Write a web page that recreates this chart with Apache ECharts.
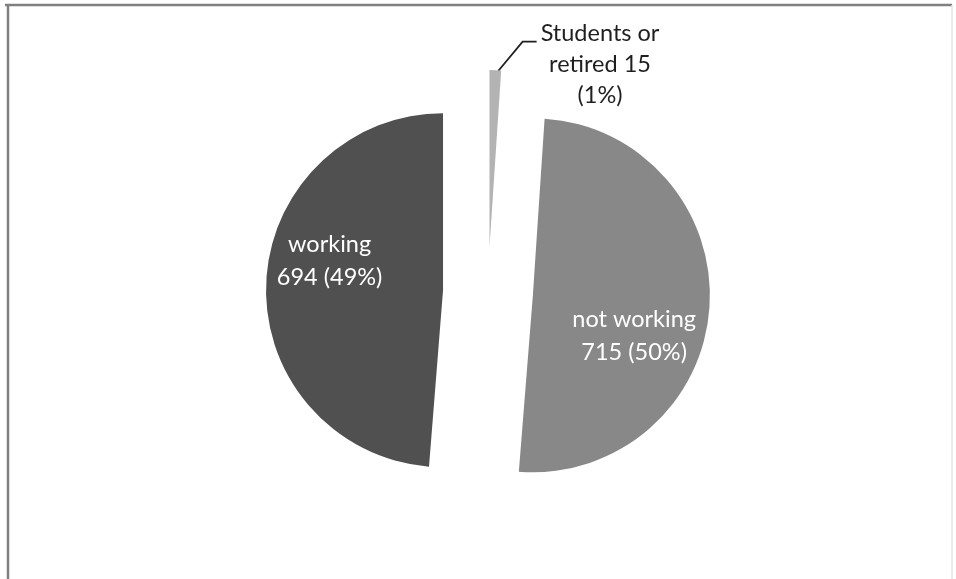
<!DOCTYPE html>
<html>
<head>
<meta charset="utf-8">
<script src="https://cdn.jsdelivr.net/npm/echarts@6/dist/echarts.min.js"></script>
<style>
  html, body { margin: 0; padding: 0; background: #fff; }
  #chart { width: 956px; height: 579px; }
</style>
</head>
<body>
<div id="chart"></div>
<script>
// Employment status of respondents
const categories = ['Students or\nretired', 'not working', 'working'];
const counts = [15, 715, 694];
const percents = [1, 50, 49];
const sliceColors = ['#b3b3b3', '#888888', '#505050'];

const chart = echarts.init(document.getElementById('chart'));

const pieData = categories.map((name, i) => ({
  name: name,
  value: counts[i],
  selected: true,
  itemStyle: { color: sliceColors[i] }
}));

// label shifts (dx, dy) relative to the default label spot of each slice
const labelShift = { 'Students or\nretired': [85, 14], 'working': [-22, -26], 'not working': [10, 34] };

chart.setOption({
  backgroundColor: '#ffffff',
  animation: false,
  graphic: [
    { type: 'line', shape: { x1: 5, y1: 5, x2: 952, y2: 5 }, style: { stroke: '#808080', lineWidth: 2.5 } },
    { type: 'line', shape: { x1: 8, y1: 4, x2: 8, y2: 579 }, style: { stroke: '#808080', lineWidth: 2.5 } },
    { type: 'line', shape: { x1: 952, y1: 5, x2: 952, y2: 579 }, style: { stroke: '#e4e4e4', lineWidth: 1.5 } }
  ],
  series: [{
    type: 'pie',
    center: [488, 292],
    radius: 177,
    startAngle: 90,
    clockwise: true,
    selectedMode: 'multiple',
    selectedOffset: 45,
    avoidLabelOverlap: false,
    emphasis: { disabled: true },
    data: pieData.map((d, i) => {
      if (i === 0) {
        return Object.assign({}, d, {
          label: {
            show: true,
            position: 'outside',
            formatter: p => p.name + ' ' + p.value + '\n(' + percents[p.dataIndex] + '%)',
            color: '#1f1f1f',
            fontFamily: 'Lato',
            fontSize: 23.5,
            lineHeight: 31,
            align: 'center'
          },
          labelLine: {
            show: true,
            length: 20,
            length2: 14,
            lineStyle: { color: '#1f1f1f', width: 1.8 }
          }
        });
      }
      return Object.assign({}, d, {
        label: {
          show: true,
          position: 'inside',
          formatter: p => p.name + '\n' + p.value + ' (' + percents[p.dataIndex] + '%)',
          color: '#ffffff',
          fontFamily: 'Lato',
          fontSize: 23.5,
          lineHeight: 33,
          align: 'center'
        },
        labelLine: { show: false }
      });
    }),
    labelLayout: function (params) {
      const s = labelShift[categories[params.dataIndex]];
      if (params.dataIndex === 0) {
        // centred text block; leader runs from the slice tip to the first text line
        const lr = params.labelRect;
        const left = lr.x + s[0] - lr.width / 2;
        const top = lr.y + s[1];
        const end = [left - 4, top + 24];
        const bend = [end[0] - 14, end[1]];
        const tip = [params.rect.x + params.rect.width - 3, params.rect.y + 1];
        return { dx: s[0], dy: s[1], align: 'center', labelLinePoints: [tip, bend, end] };
      }
      return { dx: s[0], dy: s[1] };
    }
  }]
});
</script>
</body>
</html>
